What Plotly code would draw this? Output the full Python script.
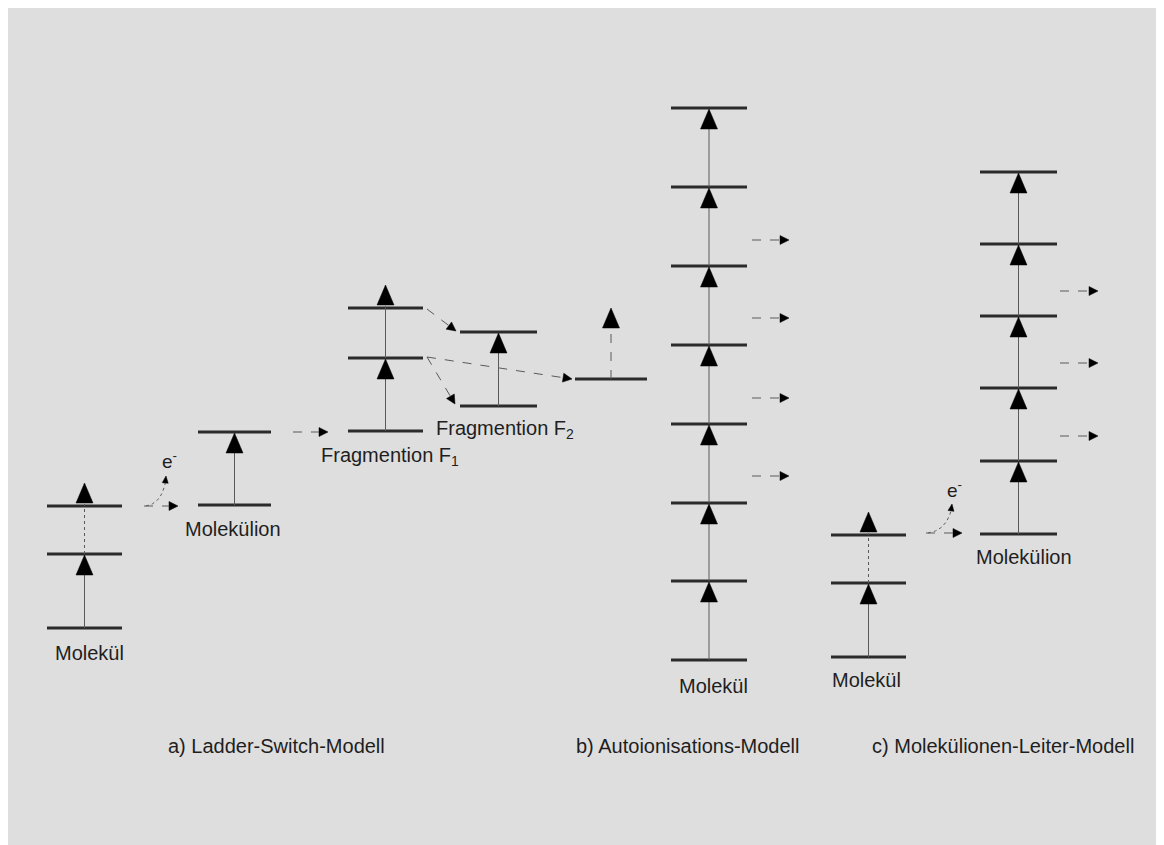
import numpy as np
import plotly.graph_objects as go

# ---------------- data (positions in diagram units; y grows downward) ----------------
# a) Ladder-Switch model
a_mol_x = [47, 122]
a_mol_levels = [628, 554, 506]
a_ion_x = [198, 271]
a_ion_levels = [505, 432]
f1_x = [348, 423]
f1_levels = [431, 358, 308]
f2_x = [460, 537]
f2_levels = [406, 332]
f3_x = [575, 647]
f3_levels = [379]

# b) Autoionisation model
b_x = [671, 747]
b_levels = [660, 581, 503, 424, 345, 266, 187, 108]
b_side_y = [476, 398, 318, 240]
b_side_x = [752, 789]

# c) Molecular-ion ladder model
c_mol_x = [831, 906]
c_mol_levels = [657, 583, 535]
c_ion_x = [980, 1057]
c_ion_levels = [534, 461, 388, 316, 244, 172]
c_side_y = [436, 363, 291]
c_side_x = [1060, 1098]

labels = ["Molekül", "Molekülion", "Fragmention F<sub>1</sub>", "Fragmention F<sub>2</sub>",
          "Molekül", "Molekül", "Molekülion",
          "a) Ladder-Switch-Modell", "b) Autoionisations-Modell", "c) Molekülionen-Leiter-Modell"]
label_x = [89, 233, 390, 505, 713, 866, 1024, 276, 687, 1003]
label_y = [653, 529, 456, 429, 686, 680, 557, 746, 746, 746]

# ---------------- styles ----------------
LEVEL_C = "#2b2b2b"
THIN_C = "#5a5a5a"
BG = "#dedede"
FONT = "Liberation Sans, Arial, sans-serif"

fig = go.Figure()


def line(xs, ys, color=THIN_C, width=1, dash="solid"):
    fig.add_trace(go.Scatter(x=xs, y=ys, mode="lines",
                             line=dict(color=color, width=width, dash=dash),
                             hoverinfo="skip", showlegend=False))


def poly(xs, ys, color="#000000"):
    fig.add_trace(go.Scatter(x=list(xs) + [xs[0]], y=list(ys) + [ys[0]], mode="lines",
                             fill="toself", fillcolor=color,
                             line=dict(color=color, width=0.5),
                             hoverinfo="skip", showlegend=False))


def level(xr, y):
    line([xr[0], xr[1]], [y, y], color=LEVEL_C, width=3)


def tri_up(xc, ytip, w=17, h=20):
    poly([xc - w / 2, xc + w / 2, xc], [ytip + h, ytip + h, ytip])


def head(x0, y0, x1, y1, length, width):
    d = np.array([x1 - x0, y1 - y0], float)
    d /= np.hypot(*d)
    n = np.array([-d[1], d[0]])
    base = np.array([x1, y1]) - d * length
    p1 = base + n * width / 2
    p2 = base - n * width / 2
    poly([p1[0], p2[0], x1], [p1[1], p2[1], y1])
    return base


def arrow(x0, y0, x1, y1, length=9, width=9, dash="dash"):
    base = head(x0, y0, x1, y1, length, width)
    line([x0, base[0]], [y0, base[1]], dash=dash)


def curved(p0, pc, p1, length=7, width=6):
    t = np.linspace(0, 1, 30)
    xs = (1 - t) ** 2 * p0[0] + 2 * (1 - t) * t * pc[0] + t ** 2 * p1[0]
    ys = (1 - t) ** 2 * p0[1] + 2 * (1 - t) * t * pc[1] + t ** 2 * p1[1]
    line(list(xs[:-3]), list(ys[:-3]), dash="dot")
    head(xs[-4], ys[-4], p1[0], p1[1] - 2, length, width)


def ladder(xr, levels, top_above=False, dotted_top=False):
    xc = (xr[0] + xr[1]) / 2
    for y in levels:
        level(xr, y)
    n = len(levels)
    for i in range(1, n):
        lo, hi = levels[i - 1], levels[i]
        if top_above and i == n - 1:
            line([xc, xc], [lo, hi - 2], dash="dot" if dotted_top else "solid")
            tri_up(xc, hi - 23)
        else:
            line([xc, xc], [lo, hi + 18])
            tri_up(xc, hi + 1)
    return xc


# ---- a) ----
ladder(a_mol_x, a_mol_levels, top_above=True, dotted_top=True)
ladder(a_ion_x, a_ion_levels)
arrow(144, a_mol_levels[2], 178, a_mol_levels[2])
curved((146, a_mol_levels[2]), (163, 503), (166, 478))
arrow(293, a_ion_levels[1], 328, a_ion_levels[1])
xc_f1 = ladder(f1_x, f1_levels, top_above=True)
ladder(f2_x, f2_levels)
for y in f3_levels:
    level(f3_x, y)
xc_f3 = (f3_x[0] + f3_x[1]) / 2
line([xc_f3, xc_f3], [f3_levels[0], f3_levels[0] - 51], dash="dash")
tri_up(xc_f3, f3_levels[0] - 71)
arrow(427, f1_levels[2] + 1, 456, f2_levels[1] - 1)
arrow(427, f1_levels[1] - 1, 455, f2_levels[0] - 2)
arrow(427, f1_levels[1] - 1, 572, f3_levels[0])

# ---- b) ----
ladder(b_x, b_levels)
for y in b_side_y:
    arrow(b_side_x[0], y, b_side_x[1], y)

# ---- c) ----
ladder(c_mol_x, c_mol_levels, top_above=True, dotted_top=True)
ladder(c_ion_x, c_ion_levels)
arrow(926, c_mol_levels[2] - 2, 962, c_mol_levels[2] - 2)
curved((928, c_mol_levels[2] - 2), (948, 530), (952, 506))
for y in c_side_y:
    arrow(c_side_x[0], y, c_side_x[1], y)

# ---- texts ----
for t, x, y in zip(labels, label_x, label_y):
    fig.add_annotation(x=x, y=y, text=t, showarrow=False, xanchor="center", yanchor="middle",
                       font=dict(family=FONT, size=20, color="#1e1e1e"))
fig.add_annotation(x=169, y=460, text="e<sup>-</sup>", showarrow=False,
                   font=dict(family=FONT, size=19, color="#1e1e1e"))
fig.add_annotation(x=954, y=489, text="e<sup>-</sup>", showarrow=False,
                   font=dict(family=FONT, size=19, color="#1e1e1e"))

# page body adds an 8px margin; the figure fills the rest of the 1164x845 window
fig.update_layout(
    width=1156, height=837,
    margin=dict(l=0, r=0, t=0, b=0),
    paper_bgcolor=BG, plot_bgcolor=BG,
    xaxis=dict(range=[8, 1164], visible=False, fixedrange=True),
    yaxis=dict(range=[845, 8], visible=False, fixedrange=True),
    showlegend=False,
)
fig.write_html("out.html")
